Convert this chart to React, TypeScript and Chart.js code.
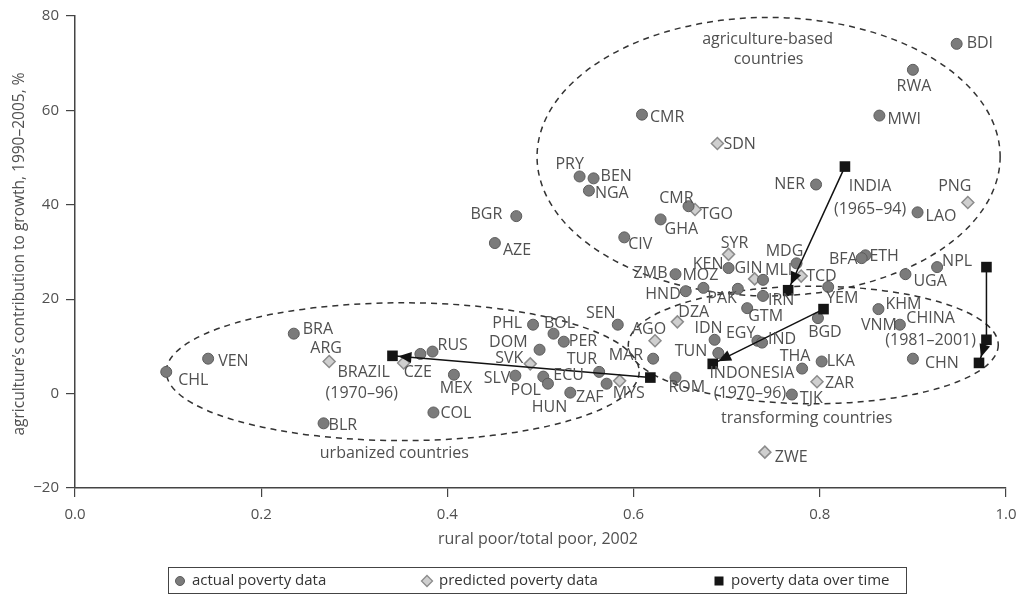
import React, { useEffect, useRef } from "react";
import { Chart, registerables } from "chart.js";

Chart.register(...registerables);

// ---------- data ----------
const xTicks = [0, 0.2, 0.4, 0.6, 0.8, 1.0];
const yTicks = [-20, 0, 20, 40, 60, 80];

const actualCodes = [
  "BDI", "RWA", "MWI", "CMR", "NER", "LAO", "PRY", "BEN", "NGA", "CMR",
  "GHA", "CIV", "BGR", "AZE", "ETH", "BFA", "NPL", "UGA", "MDG", "KEN",
  "MLI", "ZMB", "MOZ", "HND", "PAK", "IRN", "GTM", "YEM", "BGD", "KHM",
  "VNM", "CHN", "EGY", "IND", "IDN", "TUN", "THA", "LKA", "TJK", "SEN",
  "MAR", "ROM", "PHL", "BOL", "PER", "DOM", "TUR", "ECU", "POL", "HUN",
  "ZAF", "SLV", "MEX", "COL", "", "RUS", "BRA", "VEN", "CHL", "BLR",
];
const actualX = [
  0.947, 0.900, 0.864, 0.609, 0.796, 0.905, 0.542, 0.557, 0.552, 0.659,
  0.629, 0.590, 0.474, 0.451, 0.849, 0.845, 0.926, 0.892, 0.775, 0.702,
  0.739, 0.645, 0.675, 0.656, 0.712, 0.739, 0.722, 0.809, 0.798, 0.863,
  0.886, 0.900, 0.733, 0.738, 0.687, 0.691, 0.781, 0.802, 0.770, 0.583,
  0.621, 0.645, 0.492, 0.514, 0.525, 0.499, 0.563, 0.503, 0.508, 0.532,
  0.571, 0.473, 0.407, 0.385, 0.371, 0.384, 0.235, 0.143, 0.098, 0.267,
];
const actualY = [
  74.1, 68.6, 58.9, 59.1, 44.3, 38.4, 46.0, 45.6, 43.0, 39.7,
  36.9, 33.1, 37.6, 31.9, 29.3, 28.7, 26.8, 25.3, 27.6, 26.6,
  24.1, 25.3, 22.4, 21.7, 22.2, 20.7, 18.1, 22.6, 16.0, 17.9,
  14.6, 7.4, 11.2, 10.8, 11.4, 8.6, 5.3, 6.8, -0.2, 14.6,
  7.4, 3.4, 14.6, 12.7, 11.0, 9.3, 4.6, 3.6, 2.1, 0.2,
  2.1, 3.8, 4.0, -4.0, 8.4, 8.9, 12.7, 7.4, 4.6, -6.3,
];

const predictedCodes = [
  "SDN", "TGO", "PNG", "SYR", "GIN", "TCD", "DZA", "AGO", "SVK", "MYS",
  "ZAR", "ZWE", "ARG", "CZE",
];
const predictedX = [
  0.690, 0.666, 0.959, 0.702, 0.730, 0.780, 0.647, 0.623, 0.489, 0.585,
  0.797, 0.741, 0.273, 0.353,
];
const predictedY = [
  53.0, 39.0, 40.5, 29.5, 24.3, 24.9, 15.2, 11.2, 6.3, 2.7,
  2.5, -12.4, 6.8, 6.5,
];

// poverty data over time (start -> end)
const indiaX = [0.827, 0.766];
const indiaY = [48.1, 21.9];
const indonesiaX = [0.804, 0.685];
const indonesiaY = [17.9, 6.3];
const brazilX = [0.618, 0.341];
const brazilY = [3.4, 8.0];
const chinaX = [0.979, 0.979, 0.971];
const chinaY = [26.8, 11.4, 6.5];

// text notes in data coordinates (centered)
const noteTexts = [
  "agriculture-based", "countries", "INDIA", "(1965–94)", "INDONESIA", "(1970–96)",
  "CHINA", "(1981–2001)", "BRAZIL", "(1970–96)", "urbanized countries", "transforming countries",
];
const noteX = [0.744, 0.745, 0.854, 0.854, 0.727, 0.725, 0.919, 0.919, 0.310, 0.308, 0.343, 0.786];
const noteY = [75.1, 70.7, 43.9, 39.0, 4.2, 0.0, 16.0, 11.2, 4.4, 0.0, -12.7, -5.3];

// group ellipses: centre and radii in data units
const ellipseCX = [0.745, 0.352, 0.793];
const ellipseCY = [50.2, 4.64, 10.3];
const ellipseRX = [0.2487, 0.254, 0.1987];
const ellipseRY = [29.5, 14.6, 12.45];

// ---------- label placement (pixels; l=left edge, r=right edge, c=centre) ----------
const actualLabelPos: [number, number, string][] = [
  [10, 0, "l"], [1, 17, "c"], [8, 4, "l"], [8, 3, "l"], [-11, 0, "r"], [8, 4, "l"], [-10, -12, "c"], [7, -2, "l"], [6, 3, "l"], [5, -8, "r"],
  [4, 10, "l"], [4, 7, "l"], [-14, -2, "r"], [8, 7, "l"], [4, 1, "l"], [-4, 1, "r"], [5, -6, "l"], [8, 7, "l"], [-12, -12, "c"], [-5, -4, "r"],
  [2, -9, "l"], [-8, -1, "r"], [-3, -12, "c"], [-5, 3, "r"], [-1, 10, "r"], [5, 5, "l"], [1, 8, "l"], [-2, 12, "l"], [7, 14, "c"], [7, -5, "l"],
  [-3, 1, "r"], [12, 5, "l"], [-2, -7, "r"], [6, -3, "l"], [-6, -11, "c"], [-11, -2, "r"], [-7, -12, "c"], [5, 0, "l"], [8, 4, "l"], [-17, -11, "c"],
  [-10, -3, "r"], [-7, 10, "l"], [-11, -1, "r"], [6, -10, "c"], [5, 0, "l"], [-12, -7, "r"], [-2, -12, "r"], [10, -1, "l"], [-7, 7, "r"], [-3, 15, "r"],
  [-3, 14, "r"], [-5, 3, "r"], [2, 14, "c"], [7, 1, "l"], [0, 0, "l"], [5, -6, "l"], [9, -4, "l"], [10, 3, "l"], [12, 9, "l"], [5, 2, "l"],
];
const predictedLabelPos: [number, number, string][] = [
  [6, 1, "l"], [5, 5, "l"], [-13, -16, "c"], [6, -11, "c"], [8, -10, "r"], [5, 0, "l"], [1, -9, "l"], [-6, -11, "c"], [-7, -5, "r"], [-7, 13, "l"],
  [8, 2, "l"], [10, 5, "l"], [-3, -13, "c"], [0, 10, "l"],
];

const FONT = "'Open Sans', sans-serif";
const TEXT = "#505050";

export default function App() {
  const ref = useRef<HTMLCanvasElement>(null);

  useEffect(() => {
    const canvas = ref.current;
    if (!canvas) return;
    const pts = (xs: number[], ys: number[]) => xs.map((x, i) => ({ x, y: ys[i] }));

    const overlay = {
      id: "overlay",
      beforeDatasetsDraw(chart: any) {
        const { ctx, scales } = chart;
        const sx = scales.x, sy = scales.y;
        ctx.save();
        ctx.setLineDash([6, 5]);
        ctx.strokeStyle = "#333";
        ctx.lineWidth = 1.5;
        for (let i = 0; i < ellipseCX.length; i++) {
          const cx = sx.getPixelForValue(ellipseCX[i]);
          const cy = sy.getPixelForValue(ellipseCY[i]);
          const rx = sx.getPixelForValue(ellipseCX[i] + ellipseRX[i]) - cx;
          const ry = cy - sy.getPixelForValue(ellipseCY[i] + ellipseRY[i]);
          ctx.beginPath();
          ctx.ellipse(cx, cy, rx, ry, 0, 0, Math.PI * 2);
          ctx.stroke();
        }
        ctx.restore();
      },
      afterDatasetsDraw(chart: any) {
        const { ctx, scales } = chart;
        const sx = scales.x, sy = scales.y;
        ctx.save();
        // arrowheads on the over-time series
        chart.data.datasets.forEach((ds: any, di: number) => {
          if (!ds.arrow) return;
          const meta = chart.getDatasetMeta(di);
          const n = meta.data.length;
          const a = meta.data[n - 2], b = meta.data[n - 1];
          const ang = Math.atan2(b.y - a.y, b.x - a.x);
          const tipX = b.x - Math.cos(ang) * 6;
          const tipY = b.y - Math.sin(ang) * 6;
          const L = 13, W = 5.5;
          const bx = tipX - Math.cos(ang) * L, by = tipY - Math.sin(ang) * L;
          ctx.fillStyle = "#111";
          ctx.beginPath();
          ctx.moveTo(tipX, tipY);
          ctx.lineTo(bx + Math.sin(ang) * W, by - Math.cos(ang) * W);
          ctx.lineTo(bx - Math.sin(ang) * W, by + Math.cos(ang) * W);
          ctx.closePath();
          ctx.fill();
        });
        // point labels
        ctx.font = `16px ${FONT}`;
        ctx.fillStyle = TEXT;
        ctx.textBaseline = "middle";
        const drawLabels = (di: number, codes: string[], pos: [number, number, string][]) => {
          const meta = chart.getDatasetMeta(di);
          meta.data.forEach((el: any, i: number) => {
            const t = codes[i];
            if (!t) return;
            const [dx, dy, al] = pos[i];
            ctx.textAlign = al === "l" ? "left" : al === "r" ? "right" : "center";
            ctx.fillText(t, el.x + dx, el.y + dy);
          });
        };
        drawLabels(0, actualCodes, actualLabelPos);
        drawLabels(1, predictedCodes, predictedLabelPos);
        // notes
        ctx.textAlign = "center";
        noteTexts.forEach((t, i) => {
          ctx.fillText(t, sx.getPixelForValue(noteX[i]), sy.getPixelForValue(noteY[i]));
        });
        ctx.restore();
      },
      afterDraw(chart: any) {
        const { ctx } = chart;
        ctx.save();
        ctx.fillStyle = TEXT;
        ctx.font = `16px ${FONT}`;
        ctx.textAlign = "center";
        ctx.textBaseline = "middle";
        ctx.fillText("rural poor/total poor, 2002", 538, 539);
        ctx.save();
        ctx.translate(20, 254);
        ctx.rotate(-Math.PI / 2);
        ctx.font = `15.5px ${FONT}`;
        ctx.fillText("agriculture’s contribution to growth, 1990–2005, %", 0, 0);
        ctx.restore();
        // legend box
        ctx.strokeStyle = "#444";
        ctx.lineWidth = 1;
        ctx.strokeRect(168.5, 567.5, 738, 26);
        const ly = 581;
        ctx.textAlign = "left";
        // circle
        ctx.beginPath();
        ctx.arc(180, ly, 4.5, 0, Math.PI * 2);
        ctx.fillStyle = "#7b7b7b";
        ctx.fill();
        ctx.strokeStyle = "#5c5c5c";
        ctx.stroke();
        // diamond
        ctx.beginPath();
        ctx.moveTo(427, ly - 5.5);
        ctx.lineTo(432.5, ly);
        ctx.lineTo(427, ly + 5.5);
        ctx.lineTo(421.5, ly);
        ctx.closePath();
        ctx.fillStyle = "#cfcfcf";
        ctx.fill();
        ctx.strokeStyle = "#8c8c8c";
        ctx.lineWidth = 1.3;
        ctx.stroke();
        // square
        ctx.fillStyle = "#151515";
        ctx.fillRect(714.5, ly - 4.5, 9, 9);
        ctx.fillStyle = "#333";
        ctx.font = `15px ${FONT}`;
        ctx.fillText("actual poverty data", 192, ly);
        ctx.fillText("predicted poverty data", 439, ly);
        ctx.fillText("poverty data over time", 731, ly);
        ctx.restore();
      },
    };

    const timeDs = (label: string, xs: number[], ys: number[]) => ({
      label,
      data: pts(xs, ys),
      showLine: true,
      arrow: true,
      order: 0,
      borderColor: "#111",
      borderWidth: 1.5,
      pointStyle: "rect",
      pointRadius: 7.5,
      pointBackgroundColor: "#151515",
      pointBorderColor: "#151515",
      pointBorderWidth: 0,
    });

    const chart = new Chart(canvas, {
      type: "scatter",
      data: {
        datasets: [
          {
            label: "actual poverty data",
            data: pts(actualX, actualY),
            order: 1,
            pointStyle: "circle",
            pointRadius: 5.5,
            backgroundColor: "#7b7b7b",
            borderColor: "#5c5c5c",
            borderWidth: 1,
          },
          {
            label: "predicted poverty data",
            data: pts(predictedX, predictedY),
            order: 1,
            pointStyle: "rectRot",
            pointRadius: 6,
            backgroundColor: "#cfcfcf",
            borderColor: "#8c8c8c",
            borderWidth: 1.5,
          },
          timeDs("INDIA", indiaX, indiaY),
          timeDs("INDONESIA", indonesiaX, indonesiaY),
          timeDs("BRAZIL", brazilX, brazilY),
          timeDs("CHINA", chinaX, chinaY),
        ] as any,
      },
      options: {
        animation: false,
        responsive: true,
        maintainAspectRatio: false,
        layout: { padding: { left: 0, right: 0, top: 14, bottom: 0 } },
        plugins: { legend: { display: false }, tooltip: { enabled: false } },
        scales: {
          x: {
            type: "linear",
            min: 0,
            max: 1,
            afterBuildTicks: (s: any) => { s.ticks = xTicks.map((v) => ({ value: v })); },
            afterFit: (s: any) => { s.height = 112; s.paddingLeft = 0; s.paddingRight = 12; },
            ticks: {
              callback: (v: any) => Number(v).toFixed(1),
              font: { family: FONT, size: 15 },
              color: TEXT,
              padding: 9,
              maxRotation: 0,
            },
            grid: { display: true, drawOnChartArea: false, drawTicks: true, tickLength: 9, color: "#444", lineWidth: 1.2 },
            border: { display: true, color: "#444", width: 1.5 },
          },
          y: {
            type: "linear",
            min: -20,
            max: 80,
            afterBuildTicks: (s: any) => { s.ticks = yTicks.map((v) => ({ value: v })); },
            afterFit: (s: any) => { s.width = 75; },
            ticks: {
              callback: (v: any) => (Number(v) < 0 ? "−" + Math.abs(Number(v)) : String(v)),
              font: { family: FONT, size: 15 },
              color: TEXT,
              padding: 7,
            },
            grid: { display: true, drawOnChartArea: false, drawTicks: true, tickLength: 9, color: "#444", lineWidth: 1.2 },
            border: { display: true, color: "#444", width: 1.5 },
          },
        },
      },
      plugins: [overlay],
    } as any);

    return () => chart.destroy();
  }, []);

  return (
    <div style={{ position: "absolute", left: 0, top: 0, width: 1018, height: 600, background: "#fff" }}>
      <canvas ref={ref} />
    </div>
  );
}
